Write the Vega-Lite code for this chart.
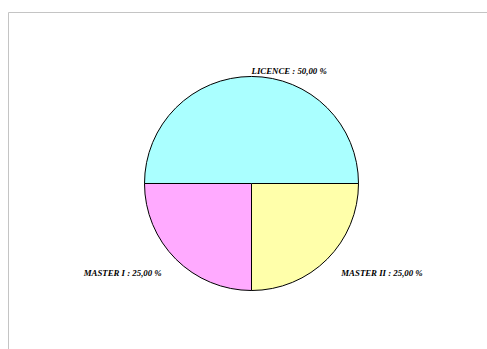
{
  "$schema": "https://vega.github.io/schema/vega-lite/v6.json",
  "autosize": "none",
  "width": 487,
  "height": 343,
  "padding": {"left": 8, "top": 12, "right": 0, "bottom": 0},
  "background": "white",
  "view": {"stroke": null},
  "data": {"values": [
    {"cat": "MASTER II", "pct": 25, "ord": 1, "label": "MASTER II : 25,00 %"},
    {"cat": "MASTER I", "pct": 25, "ord": 2, "label": "MASTER I : 25,00 %"},
    {"cat": "LICENCE", "pct": 50, "ord": 3, "label": "LICENCE : 50,00 %"}
  ]},
  "layer": [
    {
      "mark": {"type": "point", "opacity": 0},
      "encoding": {
        "x": {"field": "pct", "type": "quantitative", "axis": {"orient": "top", "domainColor": "#c4c4c4", "ticks": false, "labels": false, "grid": false, "title": null}},
        "y": {"field": "pct", "type": "quantitative", "axis": {"orient": "left", "domainColor": "#c4c4c4", "ticks": false, "labels": false, "grid": false, "title": null}}
      }
    },
    {
      "mark": {"type": "arc", "radius": 107, "stroke": "black", "strokeWidth": 1},
      "encoding": {
        "theta": {"field": "pct", "type": "quantitative", "stack": true, "scale": {"range": [1.5708, 7.854]}},
        "order": {"field": "ord", "type": "quantitative"},
        "color": {"field": "cat", "type": "nominal", "legend": null,
          "scale": {"domain": ["LICENCE", "MASTER I", "MASTER II"], "range": ["#aaffff", "#ffaaff", "#ffffaa"]}}
      }
    },
    {
      "mark": {"type": "text", "radius": 127, "align": "left", "baseline": "middle", "font": "Liberation Serif", "fontSize": 8.8, "fontWeight": "bold", "fontStyle": "italic", "color": "black"},
      "encoding": {
        "theta": {"field": "pct", "type": "quantitative", "stack": true, "scale": {"range": [1.5708, 7.854]}},
        "order": {"field": "ord", "type": "quantitative"},
        "text": {"condition": {"test": "datum.cat === 'MASTER II'", "field": "label"}, "value": ""}
      }
    },
    {
      "mark": {"type": "text", "radius": 127, "align": "right", "baseline": "middle", "font": "Liberation Serif", "fontSize": 8.8, "fontWeight": "bold", "fontStyle": "italic", "color": "black"},
      "encoding": {
        "theta": {"field": "pct", "type": "quantitative", "stack": true, "scale": {"range": [1.5708, 7.854]}},
        "order": {"field": "ord", "type": "quantitative"},
        "text": {"condition": {"test": "datum.cat === 'MASTER I'", "field": "label"}, "value": ""}
      }
    },
    {
      "mark": {"type": "text", "radius": 113, "align": "left", "baseline": "middle", "font": "Liberation Serif", "fontSize": 8.8, "fontWeight": "bold", "fontStyle": "italic", "color": "black"},
      "encoding": {
        "theta": {"field": "pct", "type": "quantitative", "stack": true, "scale": {"range": [1.5708, 7.854]}},
        "order": {"field": "ord", "type": "quantitative"},
        "text": {"condition": {"test": "datum.cat === 'LICENCE'", "field": "label"}, "value": ""}
      }
    }
  ]
}
